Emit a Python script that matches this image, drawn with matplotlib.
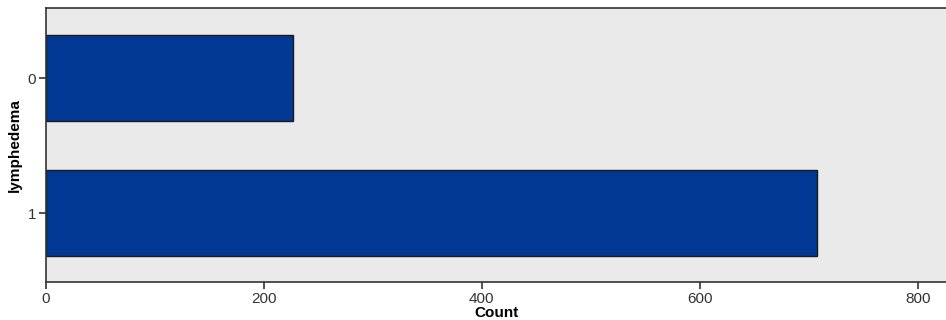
import matplotlib
matplotlib.use("Agg")
import matplotlib.pyplot as plt

categories = ["0", "1"]
counts = [227, 708]

plt.rcParams['font.family'] = ['Liberation Sans', 'DejaVu Sans']

fig = plt.figure(figsize=(9.46, 3.2), dpi=100)
ax = fig.add_axes([46 / 946, 38 / 320, 1 - 46 / 946, 274 / 320])
ax.set_facecolor('#eaeaea')

pos = list(range(len(categories)))
ax.barh(pos, counts, height=0.64, color='#003893', edgecolor='#1a1a1a', linewidth=1.0)

ax.set_ylim(1.51, -0.52)
ax.set_xlim(0, 826)
ax.set_yticks(pos)
ax.set_yticklabels(categories)
ax.set_xticks([0, 200, 400, 600, 800])

ax.spines['right'].set_visible(False)
for s in ['left', 'top', 'bottom']:
    ax.spines[s].set_color('#333333')
    ax.spines[s].set_linewidth(1.2)

ax.tick_params(axis='both', direction='out', length=5, width=1.2, color='#333333',
               labelsize=11, labelcolor='#333333', pad=2)

ax.set_xlabel('Count', fontsize=11, fontweight='bold', labelpad=0)
ax.set_ylabel('lymphedema', fontsize=11, fontweight='bold', labelpad=4)

fig.savefig('out.png', dpi=100)
